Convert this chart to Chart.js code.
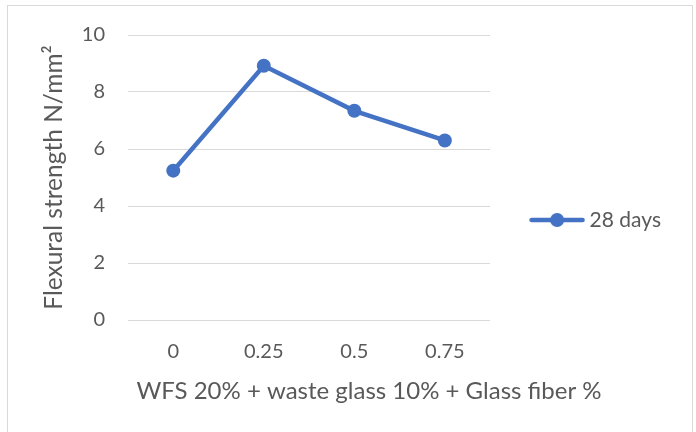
<!DOCTYPE html>
<html>
<head>
<meta charset="utf-8">
<script src="https://cdn.jsdelivr.net/npm/chart.js@4/dist/chart.umd.min.js"></script>
<style>
  html, body { margin: 0; padding: 0; background: #ffffff; }
  #wrap { width: 696px; height: 432px; position: relative; }
</style>
</head>
<body>
<div id="wrap"><canvas id="chart"></canvas></div>
<script>
// Glass fiber content (%) on the x axis
const fiberContent = ['0', '0.25', '0.5', '0.75'];
// Flexural strength at 28 days, N/mm²
const strength28 = [5.24, 8.92, 7.34, 6.30];
const seriesName = '28 days';
const yTitle = 'Flexural strength N/mm²';
const xTitle = 'WFS 20% + waste glass 10% + Glass fiber %';

const blue = '#4472c4';
const textGrey = '#595959';
const gridGrey = '#d9d9d9';
const fontFamily = 'Lato, "Open Sans", sans-serif';

// legend swatch: a short line with a round marker in the middle
function makeSwatch() {
  const c = document.createElement('canvas');
  c.width = 56; c.height = 16;
  const g = c.getContext('2d');
  g.strokeStyle = blue;
  g.lineWidth = 4.5;
  g.lineCap = 'round';
  g.beginPath();
  g.moveTo(2.5, 8); g.lineTo(53.5, 8);
  g.stroke();
  g.fillStyle = blue;
  g.beginPath();
  g.arc(28, 8, 7, 0, Math.PI * 2);
  g.fill();
  return c;
}

// thin frame around the whole chart
const framePlugin = {
  id: 'frame',
  beforeDraw(chart) {
    const ctx = chart.ctx;
    ctx.save();
    ctx.fillStyle = '#ffffff';
    ctx.fillRect(0, 0, chart.width, chart.height);
    ctx.strokeStyle = gridGrey;
    ctx.lineWidth = 1;
    ctx.strokeRect(7.5, 5.5, 685, 440);
    ctx.restore();
  }
};

// x-axis caption, centred under the whole chart (plot + legend)
const xCaptionPlugin = {
  id: 'xCaption',
  afterDraw(chart) {
    const ctx = chart.ctx;
    ctx.save();
    ctx.fillStyle = textGrey;
    ctx.font = '24px ' + fontFamily;
    ctx.textAlign = 'center';
    ctx.textBaseline = 'alphabetic';
    ctx.fillText(xTitle, 369, 399);
    ctx.restore();
  }
};

new Chart(document.getElementById('chart'), {
  type: 'line',
  data: {
    labels: fiberContent,
    datasets: [{
      label: seriesName,
      data: strength28,
      borderColor: blue,
      backgroundColor: blue,
      borderWidth: 4.5,
      pointRadius: 7,
      pointHoverRadius: 7,
      pointBorderWidth: 0,
      pointBackgroundColor: blue,
      tension: 0,
      fill: false
    }]
  },
  options: {
    responsive: true,
    maintainAspectRatio: false,
    animation: false,
    layout: { padding: { top: 8, left: 7, right: 25, bottom: 0 } },
    plugins: {
      tooltip: { enabled: false },
      legend: {
        position: 'right',
        align: 'center',
        maxWidth: 260,
        labels: {
          usePointStyle: true,
          pointStyle: makeSwatch(),
          pointStyleWidth: 44,
          boxHeight: 16,
          padding: 45,
          color: textGrey,
          font: { family: fontFamily, size: 21 }
        }
      }
    },
    scales: {
      x: {
        offset: true,
        grid: { display: false },
        border: { display: false },
        ticks: {
          color: textGrey,
          padding: 12,
          font: { family: fontFamily, size: 20 },
          maxRotation: 0
        },
        afterFit(scale) { scale.height = 112; }
      },
      y: {
        min: 0,
        max: 10,
        grid: { color: gridGrey, lineWidth: 1, drawTicks: false },
        border: { display: false },
        ticks: {
          stepSize: 2,
          color: textGrey,
          padding: 23,
          font: { family: fontFamily, size: 20 }
        },
        title: {
          display: true,
          text: yTitle,
          color: textGrey,
          font: { family: fontFamily, size: 24.5 },
          padding: { top: 32, bottom: 0 }
        },
        afterFit(scale) {
          scale.width = 121;
          scale.paddingTop = 35;
        }
      }
    }
  },
  plugins: [framePlugin, xCaptionPlugin]
});
</script>
</body>
</html>
